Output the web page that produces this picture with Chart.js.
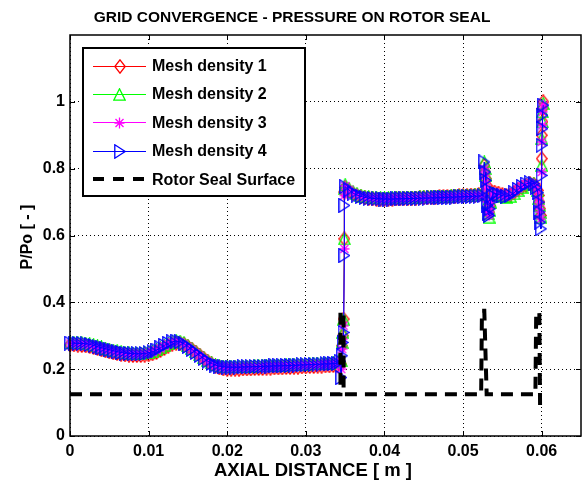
<!DOCTYPE html>
<html>
<head>
<meta charset="utf-8">
<script src="https://cdn.jsdelivr.net/npm/chart.js@4/dist/chart.umd.min.js"></script>
<style>
  html, body { margin: 0; padding: 0; background: #fff; }
  #plot { display: block; }
</style>
</head>
<body>
<canvas id="plot" width="582" height="486"></canvas>
<script>
// Axial positions along the rotor seal [m], shared by all mesh densities
const axialPos = [
  0, 0.0005, 0.001, 0.0015, 0.002, 0.0025, 0.003, 0.0035, 0.004, 0.0045,
  0.005, 0.0055, 0.006, 0.0065, 0.007, 0.0075, 0.008, 0.0085, 0.009, 0.0095,
  0.01, 0.0105, 0.011, 0.0115, 0.012, 0.0125, 0.013, 0.0135, 0.014, 0.0145,
  0.015, 0.0155, 0.016, 0.0165, 0.017, 0.0175, 0.018, 0.0185, 0.019, 0.0195,
  0.02, 0.0205, 0.021, 0.0215, 0.022, 0.0225, 0.023, 0.0235, 0.024, 0.0245,
  0.025, 0.0255, 0.026, 0.0265, 0.027, 0.0275, 0.028, 0.0285, 0.029, 0.0295,
  0.03, 0.0305, 0.031, 0.0315, 0.032, 0.0325, 0.033, 0.0335, 0.034,
  0.0343, 0.0345, 0.0346, 0.0347, 0.0348, 0.0349, 0.0349,
  0.035, 0.0355, 0.036, 0.0365, 0.037, 0.0375, 0.038, 0.0385, 0.039, 0.0395,
  0.04, 0.0405, 0.041, 0.0415, 0.042, 0.0425, 0.043, 0.0435, 0.044, 0.0445,
  0.045, 0.0455, 0.046, 0.0465, 0.047, 0.0475, 0.048, 0.0485, 0.049, 0.0495,
  0.05, 0.0505, 0.051, 0.0515, 0.052, 0.0525,
  0.0527, 0.0528, 0.0529, 0.053, 0.0531, 0.0532, 0.0533, 0.0534, 0.0535, 0.0537,
  0.054, 0.0545, 0.055, 0.0555, 0.056, 0.0565, 0.057, 0.0575, 0.058, 0.0585,
  0.059, 0.0593, 0.0595,
  0.0596, 0.0597, 0.0598, 0.0599, 0.06, 0.06, 0.0601, 0.0601, 0.0602
];

// P/Po for each mesh density
const meshDensity1 = [
  0.273, 0.273, 0.272, 0.271, 0.270, 0.268, 0.265, 0.262, 0.258, 0.255,
  0.252, 0.249, 0.247, 0.245, 0.243, 0.242, 0.241, 0.241, 0.241, 0.242,
  0.243, 0.246, 0.250, 0.256, 0.262, 0.269, 0.275, 0.278, 0.278, 0.275,
  0.268, 0.260, 0.251, 0.242, 0.233, 0.224, 0.216, 0.209, 0.204, 0.201,
  0.200, 0.200, 0.200, 0.200, 0.201, 0.201, 0.201, 0.202, 0.202, 0.202,
  0.203, 0.203, 0.204, 0.204, 0.204, 0.205, 0.205, 0.206, 0.206, 0.207,
  0.207, 0.208, 0.208, 0.209, 0.209, 0.210, 0.210, 0.211, 0.211,
  0.222, 0.215, 0.270, 0.300, 0.350, 0.590, 0.730,
  0.744, 0.734, 0.726, 0.720, 0.716, 0.713, 0.711, 0.710, 0.709, 0.709,
  0.709, 0.709, 0.709, 0.710, 0.710, 0.711, 0.711, 0.712, 0.712, 0.713,
  0.713, 0.714, 0.714, 0.715, 0.716, 0.716, 0.717, 0.717, 0.718, 0.719,
  0.719, 0.720, 0.721, 0.721, 0.722, 0.723,
  0.810, 0.790, 0.770, 0.750, 0.710, 0.680, 0.670, 0.690, 0.710, 0.725,
  0.730, 0.727, 0.722, 0.719, 0.721, 0.728, 0.737, 0.745, 0.751, 0.755,
  0.753, 0.746, 0.735,
  0.720, 0.700, 0.680, 0.660, 0.830, 0.900, 0.940, 0.980, 1.000
];
const meshDensity2 = [
  0.280, 0.280, 0.279, 0.279, 0.278, 0.276, 0.273, 0.270, 0.267, 0.263,
  0.260, 0.257, 0.255, 0.252, 0.250, 0.249, 0.248, 0.248, 0.248, 0.249,
  0.251, 0.254, 0.259, 0.265, 0.272, 0.278, 0.283, 0.285, 0.284, 0.279,
  0.271, 0.262, 0.252, 0.243, 0.234, 0.226, 0.219, 0.214, 0.211, 0.209,
  0.208, 0.208, 0.208, 0.208, 0.209, 0.209, 0.209, 0.210, 0.210, 0.210,
  0.211, 0.211, 0.212, 0.212, 0.212, 0.213, 0.213, 0.214, 0.214, 0.215,
  0.215, 0.216, 0.216, 0.217, 0.217, 0.218, 0.218, 0.219, 0.219,
  0.230, 0.225, 0.280, 0.310, 0.350, 0.590, 0.740,
  0.752, 0.740, 0.731, 0.725, 0.721, 0.718, 0.716, 0.715, 0.714, 0.714,
  0.713, 0.713, 0.713, 0.714, 0.714, 0.714, 0.715, 0.715, 0.715, 0.716,
  0.716, 0.716, 0.717, 0.717, 0.718, 0.718, 0.718, 0.719, 0.719, 0.720,
  0.720, 0.721, 0.721, 0.722, 0.722, 0.723,
  0.820, 0.800, 0.780, 0.750, 0.700, 0.665, 0.655, 0.675, 0.700, 0.725,
  0.724, 0.720, 0.716, 0.714, 0.717, 0.725, 0.735, 0.745, 0.752, 0.756,
  0.755, 0.747, 0.735,
  0.710, 0.690, 0.670, 0.655, 0.810, 0.890, 0.940, 0.970, 0.995
];
const meshDensity3 = [
  0.277, 0.277, 0.276, 0.276, 0.275, 0.273, 0.270, 0.266, 0.263, 0.260,
  0.257, 0.254, 0.251, 0.249, 0.247, 0.246, 0.245, 0.245, 0.245, 0.246,
  0.248, 0.251, 0.256, 0.262, 0.269, 0.275, 0.280, 0.282, 0.280, 0.275,
  0.267, 0.258, 0.249, 0.240, 0.231, 0.223, 0.216, 0.211, 0.208, 0.206,
  0.205, 0.205, 0.205, 0.205, 0.205, 0.206, 0.206, 0.206, 0.207, 0.207,
  0.207, 0.208, 0.208, 0.209, 0.209, 0.209, 0.210, 0.210, 0.211, 0.211,
  0.212, 0.212, 0.213, 0.213, 0.214, 0.214, 0.215, 0.215, 0.216,
  0.226, 0.200, 0.260, 0.290, 0.330, 0.560, 0.720,
  0.748, 0.737, 0.728, 0.722, 0.718, 0.715, 0.713, 0.712, 0.711, 0.711,
  0.710, 0.710, 0.710, 0.711, 0.711, 0.711, 0.712, 0.712, 0.712, 0.713,
  0.713, 0.713, 0.714, 0.714, 0.715, 0.715, 0.715, 0.716, 0.716, 0.717,
  0.717, 0.718, 0.718, 0.719, 0.719, 0.720,
  0.800, 0.780, 0.760, 0.740, 0.700, 0.670, 0.660, 0.680, 0.700, 0.720,
  0.727, 0.724, 0.720, 0.718, 0.721, 0.729, 0.739, 0.748, 0.754, 0.757,
  0.754, 0.745, 0.732,
  0.710, 0.690, 0.670, 0.650, 0.790, 0.880, 0.930, 0.970, 0.990
];
const meshDensity4 = [
  0.278, 0.278, 0.277, 0.277, 0.276, 0.274, 0.271, 0.267, 0.264, 0.261,
  0.258, 0.255, 0.252, 0.250, 0.248, 0.247, 0.246, 0.246, 0.246, 0.247,
  0.249, 0.252, 0.257, 0.264, 0.271, 0.277, 0.282, 0.284, 0.282, 0.276,
  0.268, 0.259, 0.250, 0.241, 0.232, 0.224, 0.217, 0.212, 0.209, 0.207,
  0.206, 0.206, 0.206, 0.206, 0.207, 0.207, 0.207, 0.208, 0.208, 0.208,
  0.209, 0.209, 0.210, 0.210, 0.210, 0.211, 0.211, 0.212, 0.212, 0.213,
  0.213, 0.214, 0.214, 0.215, 0.215, 0.216, 0.216, 0.217, 0.217,
  0.224, 0.175, 0.240, 0.280, 0.310, 0.540, 0.690,
  0.746, 0.736, 0.727, 0.721, 0.717, 0.714, 0.712, 0.711, 0.710, 0.710,
  0.709, 0.709, 0.709, 0.710, 0.710, 0.710, 0.711, 0.711, 0.711, 0.712,
  0.712, 0.712, 0.713, 0.713, 0.714, 0.714, 0.714, 0.715, 0.715, 0.716,
  0.716, 0.717, 0.717, 0.718, 0.718, 0.719,
  0.820, 0.790, 0.765, 0.740, 0.690, 0.665, 0.660, 0.680, 0.700, 0.720,
  0.727, 0.723, 0.719, 0.717, 0.720, 0.728, 0.738, 0.747, 0.754, 0.758,
  0.755, 0.744, 0.728,
  0.700, 0.670, 0.640, 0.620, 0.780, 0.870, 0.920, 0.960, 0.990
];

// Rotor seal surface outline
const sealX = [0, 0.0344, 0.0344, 0.0348, 0.0348, 0.0523, 0.0524, 0.0527, 0.0530, 0.0592, 0.0593, 0.0597, 0.0598];
const sealY = [0.125, 0.125, 0.372, 0.372, 0.125, 0.125, 0.375, 0.375, 0.125, 0.125, 0.365, 0.372, 0.070];

const xTickLabels = ['0', '0.01', '0.02', '0.03', '0.04', '0.05', '0.06'];
const yTickLabels = ['0', '0.2', '0.4', '0.6', '0.8', '1'];

const seriesNames = ['Mesh density 1', 'Mesh density 2', 'Mesh density 3', 'Mesh density 4', 'Rotor Seal Surface'];
const seriesColors = ['#ff0000', '#00ff00', '#ff00ff', '#0000ff', '#000000'];
const markerKinds = ['diamond', 'triangleUp', 'asterisk', 'triangleRight'];

const FONT = '"Liberation Sans", Arial, Helvetica, sans-serif';

// Hollow marker glyphs drawn once into small canvases
function makeMarker(kind, color) {
  const c = document.createElement('canvas');
  const sizes = { diamond: [12, 15], triangleUp: [13, 13], asterisk: [11, 12], triangleRight: [12, 15] };
  const [w, h] = sizes[kind];
  c.width = w; c.height = h;
  const g = c.getContext('2d');
  g.strokeStyle = color;
  g.lineWidth = 1.3;
  g.lineJoin = 'miter';
  g.beginPath();
  if (kind === 'diamond') {
    g.moveTo(6, 0.8); g.lineTo(11.2, 7.5); g.lineTo(6, 14.2); g.lineTo(0.8, 7.5); g.closePath();
  } else if (kind === 'triangleUp') {
    g.moveTo(6.5, 0.8); g.lineTo(12.2, 12.2); g.lineTo(0.8, 12.2); g.closePath();
  } else if (kind === 'asterisk') {
    g.moveTo(5.5, 0.5); g.lineTo(5.5, 11.5);
    g.moveTo(0.5, 6); g.lineTo(10.5, 6);
    g.moveTo(1.5, 2); g.lineTo(9.5, 10);
    g.moveTo(9.5, 2); g.lineTo(1.5, 10);
  } else {
    g.moveTo(0.8, 0.8); g.lineTo(11.2, 7.5); g.lineTo(0.8, 14.2); g.closePath();
  }
  g.stroke();
  return c;
}
const markers = markerKinds.map((k, i) => makeMarker(k, seriesColors[i]));

const meshSeries = [meshDensity1, meshDensity2, meshDensity3, meshDensity4];
const datasets = meshSeries.map((ys, i) => ({
  label: seriesNames[i],
  data: axialPos.map((x, k) => ({ x: x, y: ys[k] })),
  borderColor: seriesColors[i],
  backgroundColor: seriesColors[i],
  borderWidth: 1,
  pointStyle: markers[i],
  pointRadius: 5,
  pointHoverRadius: 5,
  tension: 0,
  fill: false,
  clip: false,
  order: 5 - i
}));
datasets.push({
  label: seriesNames[4],
  data: sealX.map((x, k) => ({ x: x, y: sealY[k] })),
  borderColor: '#000',
  borderWidth: 4,
  borderDash: [12, 8],
  borderCapStyle: 'butt',
  pointRadius: 0,
  tension: 0,
  fill: false,
  clip: false,
  order: 0
});

// Axes box, inward tick marks, titles and the legend panel
const decorations = {
  id: 'decorations',
  beforeDraw(chart) {
    const ctx = chart.ctx;
    ctx.save();
    ctx.fillStyle = '#fff';
    ctx.fillRect(0, 0, chart.width, chart.height);
    ctx.restore();
  },
  afterDraw(chart) {
    const ctx = chart.ctx;
    const a = chart.chartArea;
    const xs = chart.scales.x, ys = chart.scales.y;
    ctx.save();
    // box
    ctx.strokeStyle = '#000';
    ctx.lineWidth = 1.5;
    ctx.setLineDash([]);
    ctx.strokeRect(a.left, a.top, a.right - a.left, a.bottom - a.top);
    // inward ticks
    ctx.lineWidth = 1;
    const tl = 5;
    ctx.beginPath();
    xTickLabels.forEach(t => {
      const px = Math.round(xs.getPixelForValue(parseFloat(t))) + 0.5;
      ctx.moveTo(px, a.bottom); ctx.lineTo(px, a.bottom - tl);
      ctx.moveTo(px, a.top); ctx.lineTo(px, a.top + tl);
    });
    yTickLabels.forEach(t => {
      const py = Math.round(ys.getPixelForValue(parseFloat(t))) + 0.5;
      ctx.moveTo(a.left, py); ctx.lineTo(a.left + tl, py);
      ctx.moveTo(a.right, py); ctx.lineTo(a.right - tl, py);
    });
    ctx.stroke();

    // titles
    ctx.fillStyle = '#000';
    ctx.textAlign = 'center';
    ctx.textBaseline = 'alphabetic';
    ctx.font = 'bold 15.5px ' + FONT;
    ctx.fillText('GRID CONVERGENCE - PRESSURE ON ROTOR SEAL', 292, 22);
    ctx.font = 'bold 18.5px ' + FONT;
    ctx.fillText('AXIAL DISTANCE [ m ]', 313, 476);
    ctx.font = 'bold 16px ' + FONT;
    ctx.save();
    ctx.translate(32, 237);
    ctx.rotate(-Math.PI / 2);
    ctx.fillText('P/Po [ - ]', 0, 0);
    ctx.restore();

    // legend panel
    const lx = 83, ly = 48, lw = 222, lh = 148;
    ctx.fillStyle = '#fff';
    ctx.fillRect(lx, ly, lw, lh);
    ctx.strokeStyle = '#000';
    ctx.lineWidth = 2;
    ctx.strokeRect(lx, ly, lw, lh);
    const rowY = [65.5, 93.5, 122, 150.5, 179];
    ctx.font = 'bold 16px ' + FONT;
    ctx.textAlign = 'left';
    seriesNames.forEach((name, i) => {
      const y = rowY[i];
      ctx.beginPath();
      if (i < 4) {
        ctx.strokeStyle = seriesColors[i];
        ctx.lineWidth = 1;
        ctx.setLineDash([]);
        ctx.moveTo(93, Math.round(y) + 0.5); ctx.lineTo(146, Math.round(y) + 0.5);
        ctx.stroke();
        const m = markers[i];
        ctx.drawImage(m, Math.round(119.5 - m.width / 2), Math.round(y - m.height / 2 + 0.5));
      } else {
        ctx.strokeStyle = '#000';
        ctx.lineWidth = 4;
        ctx.setLineDash([11, 9]);
        ctx.moveTo(93, y); ctx.lineTo(146, y);
        ctx.stroke();
        ctx.setLineDash([]);
      }
      ctx.fillStyle = '#000';
      ctx.fillText(name, 152, y + 5.8);
    });
    ctx.restore();
  }
};

const tickFont = { family: FONT, size: 16, weight: 'bold' };

new Chart(document.getElementById('plot'), {
  type: 'line',
  data: { datasets: datasets },
  options: {
    responsive: false,
    animation: false,
    devicePixelRatio: 1,
    events: [],
    layout: { autoPadding: false, padding: { top: 35, right: 1, left: 0, bottom: 0 } },
    plugins: {
      legend: { display: false },
      tooltip: { enabled: false },
      title: { display: false }
    },
    scales: {
      x: {
        type: 'linear',
        min: 0,
        max: 0.065,
        afterBuildTicks: s => { s.ticks = xTickLabels.map(t => ({ value: parseFloat(t) })); },
        afterFit: s => { s.height = 50; s.paddingLeft = 0; s.paddingRight = 0; },
        grid: { color: '#000', lineWidth: 1, drawTicks: false },
        border: { display: false, dash: [1, 3] },
        ticks: {
          font: tickFont, color: '#000', padding: 6,
          autoSkip: false, maxRotation: 0,
          callback: (v, i) => xTickLabels[i]
        }
      },
      y: {
        type: 'linear',
        min: 0,
        max: 1.2,
        afterBuildTicks: s => { s.ticks = yTickLabels.map(t => ({ value: parseFloat(t) })); },
        afterFit: s => { s.width = 70; s.paddingTop = 0; s.paddingBottom = 0; },
        grid: { color: '#000', lineWidth: 1, drawTicks: false },
        border: { display: false, dash: [1, 3] },
        ticks: {
          font: tickFont, color: '#000', padding: 5,
          autoSkip: false,
          callback: (v, i) => yTickLabels[i]
        }
      }
    }
  },
  plugins: [decorations]
});
</script>
</body>
</html>
